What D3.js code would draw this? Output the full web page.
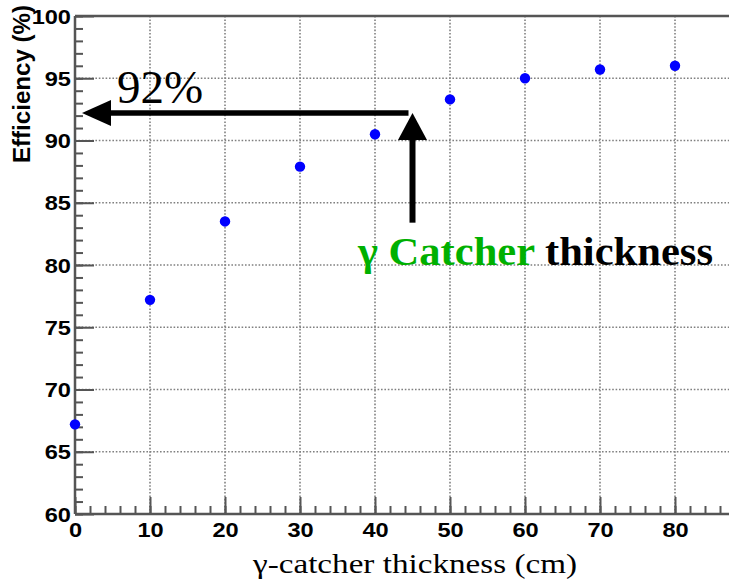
<!DOCTYPE html>
<html>
<head>
<meta charset="utf-8">
<script src="https://cdn.jsdelivr.net/npm/d3@7"></script>
<style>
  body { margin: 0; background: #fff; }
  svg { display: block; }
</style>
</head>
<body>
<div class="chart"></div>
<script>
// data
const thickness = [0, 10, 20, 30, 40, 50, 60, 70, 80];
const efficiency = [67.2, 77.2, 83.5, 87.9, 90.5, 93.3, 95.0, 95.7, 96.0];
const xTicks = [0, 10, 20, 30, 40, 50, 60, 70, 80];
const yTicks = [60, 65, 70, 75, 80, 85, 90, 95, 100];

// annotation: 92% efficiency reached at ~45 cm
const markLevel = 92.2;
const markThickness = 45;
const arrowBottom = 83.4;

const width = 729, height = 580;

const svg = d3.select('.chart').append('svg')
    .attr('width', width)
    .attr('height', height);

const x = d3.scaleLinear().domain([0, 88]).range([75, 735]);
const y = d3.scaleLinear().domain([60, 100]).range([514, 16]);

const axisColor = '#555';
const labelFont = '"Liberation Sans", Arial, sans-serif';
const serifFont = '"Liberation Serif", "Times New Roman", serif';

// dotted grid
const grid = svg.append('g');
grid.selectAll('line.gx')
    .data(xTicks.slice(1))
    .enter().append('line')
    .attr('x1', d => x(d)).attr('x2', d => x(d))
    .attr('y1', y(60)).attr('y2', y(100))
    .attr('stroke', '#808080').attr('stroke-width', 1.6)
    .attr('stroke-dasharray', '1.6,1.8');
grid.selectAll('line.gy')
    .data(yTicks.slice(1, -1))
    .enter().append('line')
    .attr('x1', x(0)).attr('x2', width)
    .attr('y1', d => y(d)).attr('y2', d => y(d))
    .attr('stroke', '#808080').attr('stroke-width', 1.6)
    .attr('stroke-dasharray', '1.6,1.8');

// minor ticks
svg.append('g')
    .attr('transform', 'translate(' + x(0) + ',0)')
    .call(d3.axisLeft(y).tickValues(d3.range(60, 101, 1)).tickSize(-8).tickFormat(''))
    .call(g => g.select('.domain').remove())
    .selectAll('line').attr('stroke', axisColor).attr('stroke-width', 2);
svg.append('g')
    .attr('transform', 'translate(0,' + y(60) + ')')
    .call(d3.axisBottom(x).tickValues(d3.range(0, 89, 2)).tickSize(-8).tickFormat(''))
    .call(g => g.select('.domain').remove())
    .selectAll('line').attr('stroke', axisColor).attr('stroke-width', 2);

// major ticks + labels
const yAxis = svg.append('g')
    .attr('transform', 'translate(' + x(0) + ',0)')
    .call(d3.axisLeft(y).tickValues(yTicks).tickSize(-19).tickPadding(0).tickFormat(d3.format('d')));
yAxis.select('.domain').remove();
yAxis.selectAll('line').attr('stroke', axisColor).attr('stroke-width', 2);
yAxis.selectAll('text')
    .attr('x', 0)
    .attr('dy', '0.36em')
    .attr('text-anchor', 'end')
    .style('font-family', labelFont)
    .style('font-weight', 'bold')
    .style('font-size', '20px')
    .attr('fill', '#000')
    .attr('transform', 'translate(-4,0) scale(1.18,1)');

const xAxis = svg.append('g')
    .attr('transform', 'translate(0,' + y(60) + ')')
    .call(d3.axisBottom(x).tickValues(xTicks).tickSize(-17).tickPadding(0).tickFormat(d3.format('d')));
xAxis.select('.domain').remove();
xAxis.selectAll('line').attr('stroke', axisColor).attr('stroke-width', 2);
xAxis.selectAll('text')
    .attr('y', 23)
    .attr('dy', 0)
    .style('font-family', labelFont)
    .style('font-weight', 'bold')
    .style('font-size', '20px')
    .attr('fill', '#000')
    .attr('transform', 'scale(1.18,1)');

// frame lines
svg.append('line')
    .attr('x1', x(0)).attr('x2', width)
    .attr('y1', y(60)).attr('y2', y(60))
    .attr('stroke', axisColor).attr('stroke-width', 2.5);
svg.append('line')
    .attr('x1', x(0)).attr('x2', width)
    .attr('y1', y(100)).attr('y2', y(100))
    .attr('stroke', axisColor).attr('stroke-width', 2.5);
svg.append('line')
    .attr('x1', x(0)).attr('x2', x(0))
    .attr('y1', y(60)).attr('y2', y(100))
    .attr('stroke', axisColor).attr('stroke-width', 2.5);

// points
svg.append('g').selectAll('circle')
    .data(thickness.map((t, i) => [t, efficiency[i]]))
    .enter().append('circle')
    .attr('cx', d => x(d[0]))
    .attr('cy', d => y(d[1]))
    .attr('r', 5.2)
    .attr('fill', '#0000ff');

// arrows
const ay = y(markLevel), ax = x(markThickness);
svg.append('line')
    .attr('x1', ax - 4).attr('x2', x(0) + 34)
    .attr('y1', ay).attr('y2', ay)
    .attr('stroke', '#000').attr('stroke-width', 5.5);
svg.append('path')
    .attr('d', 'M' + (x(0) + 7) + ',' + ay + 'L' + (x(0) + 36) + ',' + (ay - 13) + 'L' + (x(0) + 36) + ',' + (ay + 13) + 'Z')
    .attr('fill', '#000');
svg.append('line')
    .attr('x1', ax).attr('x2', ax)
    .attr('y1', y(arrowBottom)).attr('y2', ay + 25)
    .attr('stroke', '#000').attr('stroke-width', 6);
svg.append('path')
    .attr('d', 'M' + ax + ',' + ay + 'L' + (ax - 14.5) + ',' + (ay + 27) + 'L' + (ax + 14.5) + ',' + (ay + 27) + 'Z')
    .attr('fill', '#000');

// annotation texts
svg.append('text')
    .attr('x', 117).attr('y', 103)
    .style('font-family', serifFont)
    .style('font-size', '47px')
    .text('92%');

const note = svg.append('text')
    .attr('x', 358).attr('y', 265)
    .style('font-family', serifFont)
    .style('font-weight', 'bold')
    .style('font-size', '41px')
    .attr('textLength', 355)
    .attr('lengthAdjust', 'spacingAndGlyphs');
note.append('tspan').attr('fill', '#00b000').text('γ Catcher');
note.append('tspan').attr('fill', '#000').text(' thickness');

// axis titles
svg.append('text')
    .attr('x', 415).attr('y', 573)
    .attr('text-anchor', 'middle')
    .style('font-family', serifFont)
    .style('font-size', '27px')
    .attr('textLength', 324)
    .attr('lengthAdjust', 'spacingAndGlyphs')
    .text('γ-catcher thickness (cm)');

svg.append('text')
    .attr('transform', 'translate(30,84) rotate(-90)')
    .attr('text-anchor', 'middle')
    .style('font-family', labelFont)
    .style('font-weight', 'bold')
    .style('font-size', '23px')
    .attr('textLength', 158)
    .attr('lengthAdjust', 'spacingAndGlyphs')
    .text('Efficiency (%)');
</script>
</body>
</html>
